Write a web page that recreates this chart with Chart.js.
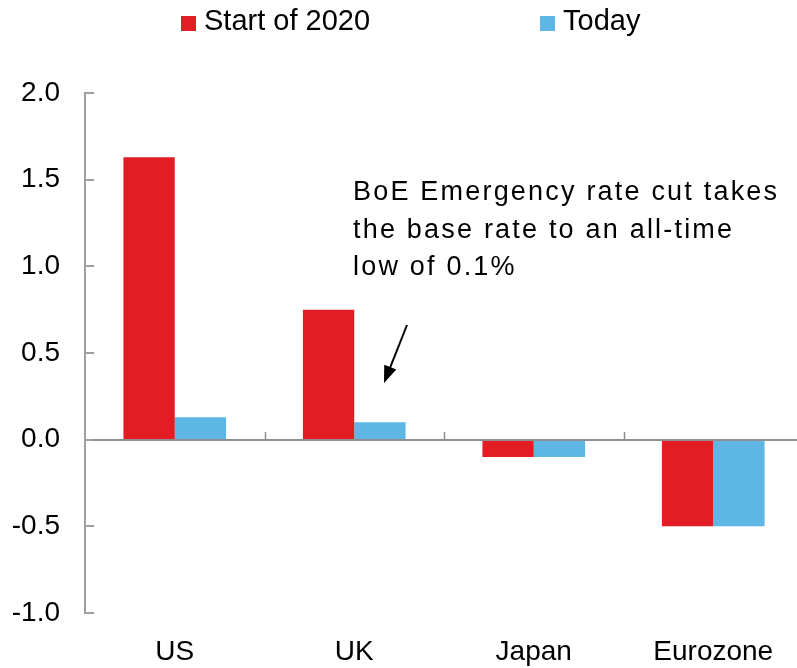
<!DOCTYPE html>
<html>
<head>
<meta charset="utf-8">
<script src="https://cdn.jsdelivr.net/npm/chart.js@4.4.1/dist/chart.umd.min.js"></script>
<style>
  html, body { margin: 0; padding: 0; background: #fff; overflow: hidden; }
  #wrap { width: 797px; height: 668px; overflow: hidden; }
</style>
</head>
<body>
<div id="wrap"><canvas id="rateChart" width="803" height="668"></canvas></div>
<script>
/* ==========================
   DATA
========================== */
const regions = ["US", "UK", "Japan", "Eurozone"];
const startOf2020 = [1.63, 0.75, -0.1, -0.5];
const today = [0.13, 0.1, -0.1, -0.5];
const seriesNames = ["Start of 2020", "Today"];
const yTickValues = [-1.0, -0.5, 0.0, 0.5, 1.0, 1.5, 2.0];
const noteLines = [
    "BoE Emergency rate cut takes",
    "the base rate to an all-time",
    "low of 0.1%"
];

const RED = "#e21d24";
const BLUE = "#5db6e3";
const AXIS = "#a0a0a0";
const FONT = "'Liberation Sans', Arial, sans-serif";

Chart.defaults.font.family = FONT;
Chart.defaults.color = "#000";

/* ==========================
   EXTRA DRAWING (legend, ticks, note)
========================== */
const extras = {
    id: "extras",
    afterDraw(chart) {
        const ctx = chart.ctx;
        const xs = chart.scales.x;
        const ys = chart.scales.y;
        ctx.save();

        // zero line
        const zy = Math.round(ys.getPixelForValue(0));
        ctx.strokeStyle = "#8e8e8e";
        ctx.lineWidth = 2;
        ctx.beginPath();
        ctx.moveTo(xs.left, zy);
        ctx.lineTo(chart.width, zy);
        ctx.stroke();

        // category separators on the zero line
        const step = xs.getPixelForValue(1) - xs.getPixelForValue(0);
        ctx.lineWidth = 1.5;
        for (let i = 0; i < regions.length; i++) {
            const bx = Math.round(xs.getPixelForValue(i) + step / 2) + 0.5;
            ctx.beginPath();
            ctx.moveTo(bx, zy);
            ctx.lineTo(bx, zy - 8);
            ctx.stroke();
        }

        // inward y tick marks
        ctx.strokeStyle = AXIS;
        ctx.lineWidth = 2;
        yTickValues.forEach(v => {
            const py = Math.round(ys.getPixelForValue(v));
            ctx.beginPath();
            ctx.moveTo(xs.left, py);
            ctx.lineTo(xs.left + 9, py);
            ctx.stroke();
        });

        // legend
        ctx.font = "29px " + FONT;
        ctx.textBaseline = "alphabetic";
        const legendX = [181, 540];
        chart.data.datasets.forEach((ds, i) => {
            ctx.fillStyle = ds.backgroundColor;
            ctx.fillRect(legendX[i], 16, 15, 15);
            ctx.fillStyle = "#000";
            ctx.fillText(ds.label, legendX[i] + 23, 30);
        });

        // note
        ctx.font = "27px " + FONT;
        if ("letterSpacing" in ctx) ctx.letterSpacing = "2.2px";
        noteLines.forEach((t, i) => ctx.fillText(t, 353, 200 + i * 37.5));
        if ("letterSpacing" in ctx) ctx.letterSpacing = "0px";

        // arrow
        const x1 = 407, y1 = 325, x2 = 384, y2 = 383;
        const ang = Math.atan2(y2 - y1, x2 - x1);
        const head = 17, half = 6.5;
        ctx.strokeStyle = "#000";
        ctx.lineWidth = 2;
        ctx.beginPath();
        ctx.moveTo(x1, y1);
        ctx.lineTo(x2 - Math.cos(ang) * head * 0.8, y2 - Math.sin(ang) * head * 0.8);
        ctx.stroke();
        ctx.fillStyle = "#000";
        ctx.beginPath();
        ctx.moveTo(x2, y2);
        ctx.lineTo(x2 - Math.cos(ang) * head + Math.sin(ang) * half, y2 - Math.sin(ang) * head - Math.cos(ang) * half);
        ctx.lineTo(x2 - Math.cos(ang) * head - Math.sin(ang) * half, y2 - Math.sin(ang) * head + Math.cos(ang) * half);
        ctx.closePath();
        ctx.fill();

        ctx.restore();
    }
};

/* ==========================
   CHART
========================== */
new Chart(document.getElementById("rateChart"), {
    type: "bar",
    data: {
        labels: regions,
        datasets: [
            { label: seriesNames[0], data: startOf2020, backgroundColor: RED },
            { label: seriesNames[1], data: today, backgroundColor: BLUE }
        ]
    },
    options: {
        responsive: false,
        animation: false,
        layout: { padding: { top: 93, right: 0, bottom: 0, left: 0 } },
        datasets: {
            bar: { categoryPercentage: 0.572, barPercentage: 1.0 }
        },
        plugins: {
            legend: { display: false },
            tooltip: { enabled: false }
        },
        scales: {
            x: {
                grid: { display: false, drawTicks: false },
                border: { display: false },
                ticks: { font: { size: 28 }, padding: 22, color: "#000" },
                afterFit: s => { s.height = 55; }
            },
            y: {
                min: -1,
                max: 2,
                afterBuildTicks: s => { s.ticks = yTickValues.map(v => ({ value: v })); },
                grid: { display: false, drawTicks: false },
                border: { display: true, color: AXIS, width: 2 },
                ticks: {
                    font: { size: 28 },
                    padding: 25,
                    color: "#000",
                    callback: v => Number(v).toFixed(1)
                },
                afterFit: s => { s.width = 85; }
            }
        }
    },
    plugins: [extras]
});
</script>
</body>
</html>
